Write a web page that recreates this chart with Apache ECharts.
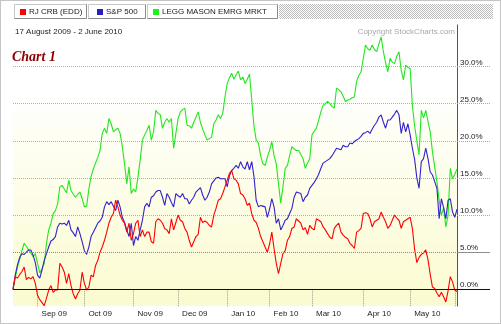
<!DOCTYPE html>
<html>
<head>
<meta charset="utf-8">
<script src="https://cdn.jsdelivr.net/npm/echarts@6/dist/echarts.min.js"></script>
<style>
  html, body { margin: 0; padding: 0; background: #fff; }
  #chart { width: 501px; height: 324px; }
</style>
</head>
<body>
<div id="chart"></div>
<script>
// Trading calendar (NYSE), 17 Aug 2009 - 2 Jun 2010
const startDate = '2009-08-17';
const endDate = '2010-06-02';
const marketHolidays = ['2009-09-07', '2009-11-26', '2009-12-25', '2010-01-01',
  '2010-01-18', '2010-02-15', '2010-04-02', '2010-05-31'];

function tradingDays(from, to, holidays) {
  const out = [];
  const d = new Date(from + 'T00:00:00Z');
  const end = new Date(to + 'T00:00:00Z');
  while (d <= end) {
    const s = d.toISOString().slice(0, 10);
    const wd = d.getUTCDay();
    if (wd !== 0 && wd !== 6 && holidays.indexOf(s) < 0) out.push(s);
    d.setUTCDate(d.getUTCDate() + 1);
  }
  return out;
}

const categories = tradingDays(startDate, endDate, marketHolidays);

const seriesNames = ['RJ CRB (EDD)', 'S&P 500', 'LEGG MASON EMRG MRKT'];
const monthNames = ['Jan', 'Feb', 'Mar', 'Apr', 'May', 'Jun', 'Jul', 'Aug', 'Sep', 'Oct', 'Nov', 'Dec'];
const yTickValues = [0, 5, 10, 15, 20, 25, 30];

// Percent change since 17 Aug 2009
const crbValues = [
  0, 1.7, 1.5, 2.0, 2.4, 3.0, 1.3, 1.6, 1.4, 1.7,
  0.8, -0.8, -1.4, -1.8, -2.2, -1.2, -0.1, 0.5, -0.4, -0.1,
  -0.1, 3.5, 3.0, 2.3, 0.8, 2.1, 0.5, -0.6, -1.3, -0.6,
  -0.1, 2.3, 0.8, -0.1, 0.3, 1.9, 1.7, 3.2, 3.9, 5.0,
  5.7, 6.6, 7.7, 8.9, 9.7, 10.2, 12.0, 11.1, 10.0, 9.3,
  8.9, 7.7, 8.9, 6.6, 7.5, 8.9, 9.3, 7.1, 8.0, 7.1,
  7.7, 7.7, 6.4, 6.2, 9.1, 9.5, 9.3, 8.9, 8.2, 8.0,
  7.5, 9.5, 8.0, 9.0, 10.0, 9.3, 9.1, 8.2, 7.7, 6.6,
  5.7, 6.4, 7.1, 7.4, 9.7, 9.0, 9.2, 9.0, 8.6, 8.4,
  10.0, 10.9, 12.0, 12.2, 12.9, 13.8, 14.7, 15.6, 16.0, 14.9,
  14.7, 14.2, 12.9, 12.7, 12.2, 11.3, 11.6, 10.2, 9.3, 9.0,
  8.2, 7.1, 6.4, 5.7, 5.0, 6.1, 7.7, 5.5, 3.5, 2.1,
  3.5, 4.8, 5.2, 6.6, 7.1, 8.2, 8.4, 9.5, 9.2, 8.9,
  8.0, 8.3, 7.4, 8.6, 8.2, 8.0, 9.5, 9.3, 9.1, 8.4,
  8.0, 7.5, 7.0, 6.8, 8.2, 8.6, 8.9, 7.7, 7.3, 7.0,
  6.8, 6.2, 5.9, 5.5, 7.7, 7.9, 8.2, 10.2, 10.3, 10.2,
  9.5, 8.4, 9.1, 9.3, 9.5, 10.4, 9.7, 9.1, 8.2, 8.6,
  9.3, 10.0, 9.6, 9.3, 8.2, 9.1, 9.3, 9.5, 9.7, 8.2,
  5.4, 3.6, 4.3, 4.7, 4.9, 5.3, 4.0, 2.0, 0.3, 0.1,
  -0.5, -1.0, -0.4, -1.0, -1.7, -0.2, 1.7, 1.0, -0.1, -0.3
];

const spxValues = [
  0, 1.9, 3.3, 4.3, 4.8, 4.7, 5.0, 5.3, 5.3, 4.6,
  3.6, 1.9, 1.5, 2.6, 3.9, 4.8, 5.7, 6.5, 6.7, 7.1,
  8.4, 8.9, 8.8, 8.9, 8.6, 9.3, 8.0, 7.6, 7.1, 8.4,
  7.5, 6.4, 5.2, 4.7, 5.7, 7.1, 7.7, 8.3, 8.9, 9.2,
  9.7, 11.1, 11.8, 11.4, 11.8, 11.2, 10.6, 12.0, 11.1, 9.7,
  9.0, 8.0, 7.1, 8.9, 5.9, 7.1, 6.6, 8.0, 9.3, 11.1,
  11.6, 11.1, 12.4, 12.6, 13.1, 13.3, 13.3, 12.4, 11.3, 12.9,
  12.4, 11.7, 11.1, 12.9, 12.6, 12.4, 12.9, 12.2, 12.2, 11.5,
  12.0, 12.4, 13.1, 13.4, 13.7, 12.7, 12.0, 12.4, 13.1, 14.2,
  14.6, 15.0, 15.1, 14.9, 14.9, 14.9, 13.8, 15.3, 16.0, 16.3,
  16.7, 16.3, 17.2, 16.5, 16.2, 17.2, 16.1, 17.2, 15.2, 12.0,
  11.1, 11.3, 11.2, 11.1, 9.7, 10.8, 12.2, 11.1, 8.9, 9.5,
  8.0, 8.6, 9.3, 9.5, 10.2, 10.9, 12.4, 13.1, 13.0, 12.9,
  11.8, 12.4, 12.7, 13.6, 14.0, 14.4, 14.9, 15.5, 16.3, 17.0,
  17.2, 17.4, 17.6, 18.0, 18.5, 19.0, 18.9, 18.8, 19.4, 19.2,
  19.2, 19.7, 19.6, 19.9, 20.1, 20.3, 20.6, 21.0, 21.1, 21.3,
  21.0, 21.6, 22.1, 22.5, 23.2, 23.5, 22.5, 21.7, 22.8, 22.8,
  23.2, 23.6, 24.1, 23.5, 21.0, 22.5, 21.2, 22.3, 20.8, 19.0,
  17.5, 15.0, 13.6, 17.2, 17.6, 19.0, 17.6, 15.8, 15.4, 14.5,
  13.6, 9.5, 12.2, 11.0, 9.5, 12.0, 12.2, 10.4, 9.7, 10.8
];

const emrgValues = [
  0, 1.5, 3.0, 4.0, 5.2, 6.2, 5.8, 5.3, 4.9, 4.4,
  4.8, 3.5, 2.2, 2.8, 3.5, 6.2, 8.0, 8.9, 10.2, 10.6,
  11.5, 13.8, 14.0, 13.5, 13.0, 14.7, 13.3, 12.8, 12.4, 12.8,
  13.1, 12.2, 11.1, 11.2, 13.5, 15.2, 16.2, 17.0, 17.8, 18.7,
  21.0, 21.7, 21.0, 23.0, 22.3, 21.2, 21.5, 21.7, 21.0, 19.2,
  16.9, 14.2, 16.5, 12.9, 13.5, 13.1, 15.1, 17.4, 20.1, 20.8,
  21.4, 22.1, 20.1, 21.2, 24.1, 23.7, 23.5, 21.7, 22.5, 23.0,
  22.5, 23.0, 19.0, 21.0, 23.0, 23.9, 24.2, 24.4, 22.1, 22.0,
  21.7, 22.5, 23.2, 23.9, 22.5, 21.6, 20.8, 20.1, 20.3, 20.5,
  22.3, 22.8, 23.5, 23.0, 23.7, 25.9, 27.7, 28.5, 29.1, 28.3,
  28.9, 29.4, 28.2, 28.6, 27.7, 28.3, 29.0, 25.5, 22.0, 20.1,
  19.7, 18.0, 16.9, 16.7, 17.8, 18.7, 19.9, 18.0, 16.9, 14.2,
  11.6, 13.8, 16.3, 16.7, 18.0, 19.2, 18.9, 18.7, 18.7, 18.2,
  17.6, 16.3, 17.0, 17.6, 20.8, 21.3, 21.7, 22.8, 23.9, 24.8,
  25.0, 25.3, 25.0, 24.6, 24.4, 27.1, 26.9, 26.6, 26.0, 25.3,
  25.5, 25.6, 25.8, 25.9, 28.0, 28.8, 29.3, 31.1, 32.9, 32.4,
  32.2, 32.9, 32.3, 32.0, 33.1, 34.0, 32.0, 30.5, 29.3, 31.1,
  30.6, 30.4, 31.4, 32.0, 29.5, 28.2, 30.2, 29.9, 29.7, 24.8,
  22.0, 20.0, 18.1, 24.1, 23.1, 24.1, 22.6, 21.2, 18.5, 16.5,
  14.5, 12.0, 10.0, 11.0, 8.4, 10.0, 16.3, 14.9, 15.5, 16.2
];

const seriesColors = ['#ff0000', '#3322cc', '#22e622'];
const legendColors = ['#ff0000', '#2a1fc0', '#22ee22'];

const sansFont = '"Liberation Sans", Arial, sans-serif';

function isMonthStart(i) {
  return i > 0 && categories[i].slice(5, 7) !== categories[i - 1].slice(5, 7);
}
function monthLabel(value) {
  return monthNames[parseInt(value.slice(5, 7), 10) - 1] + ' ' + value.slice(2, 4);
}

// dithered grey fill for the empty tab strip
const hatch = document.createElement('canvas');
hatch.width = 2; hatch.height = 2;
const hc = hatch.getContext('2d');
hc.fillStyle = '#ffffff'; hc.fillRect(0, 0, 2, 2);
hc.fillStyle = '#bdbdbd'; hc.fillRect(0, 0, 1, 1); hc.fillRect(1, 1, 1, 1);

function tab(x, w) {
  return [
    { type: 'rect', shape: { x: x + 0.5, y: 4.5, width: w, height: 14 },
      style: { fill: '#fff', stroke: '#c8c8c8', lineWidth: 1 }, z: 0, silent: true },
    { type: 'polyline', shape: { points: [[x + w + 0.5, 4.5], [x + w + 0.5, 18.5], [x + 0.5, 18.5]] },
      style: { stroke: '#8a8a8a', lineWidth: 1, fill: null }, z: 0, silent: true }
  ];
}

const yMin = -2.25, yMax = 35.6;

const chart = echarts.init(document.getElementById('chart'), null, { renderer: 'canvas' });

const lineSeries = [
  { name: seriesNames[2], data: emrgValues, color: seriesColors[2] },
  { name: seriesNames[1], data: spxValues, color: seriesColors[1] },
  { name: seriesNames[0], data: crbValues, color: seriesColors[0] }
].map(function (s, k) {
  const o = {
    name: s.name,
    type: 'line',
    data: s.data,
    showSymbol: false,
    symbol: 'none',
    smooth: false,
    color: s.color,
    lineStyle: { color: s.color, width: 1.1 },
    itemStyle: { color: legendColors[seriesNames.indexOf(s.name)] },
    yAxisIndex: 0,
    animation: false
  };
  if (k === 0) {
    o.markLine = {
      silent: true,
      symbol: 'none',
      label: { show: false },
      animation: false,
      data: [
        { yAxis: 5, lineStyle: { color: '#8c8c8c', type: 'dotted', width: 1 } },
        { yAxis: 0, lineStyle: { color: '#111', type: 'solid', width: 1 } }
      ]
    };
  }
  return o;
});

const option = {
  animation: false,
  backgroundColor: '#fff',
  textStyle: { fontFamily: sansFont },
  title: [
    { text: '17 August 2009 - 2 June 2010', left: 15, top: 28, padding: 0,
      textStyle: { fontSize: 8, fontWeight: 'normal', color: '#222', fontFamily: sansFont } },
    { text: 'Copyright StockCharts.com', right: 46, top: 28, padding: 0,
      textStyle: { fontSize: 8, fontWeight: 'normal', color: '#a8a8a8', fontFamily: sansFont } },
    { text: 'Chart 1', left: 12, top: 50, padding: 0,
      textStyle: { fontSize: 14, fontWeight: 'bold', fontStyle: 'italic', color: '#8b0000',
        fontFamily: '"Liberation Serif", "Times New Roman", serif' } }
  ],
  legend: seriesNames.map(function (n, k) {
    return {
      data: [n],
      left: [20, 97, 153][k],
      top: 8,
      padding: 0,
      icon: 'rect',
      itemWidth: 6,
      itemHeight: 6,
      itemGap: 0,
      selectedMode: false,
      textStyle: { fontSize: 8, color: '#222', fontFamily: sansFont, padding: [0, 0, 0, -2] }
    };
  }),
  graphic: [].concat(
    tab(14, 72), tab(88, 57), tab(147, 130),
    [
      { type: 'rect', shape: { x: 279, y: 4, width: 214, height: 15 },
        style: { fill: { image: hatch, repeat: 'repeat' } }, z: 0, silent: true },
      { type: 'rect', shape: { x: 0.5, y: 0.5, width: 500, height: 323 },
        style: { fill: null, stroke: '#8a8a8a', lineWidth: 1, lineDash: [1, 1] }, z: 10, silent: true }
    ]
  ),
  grid: {
    left: 13, right: 44, top: 25, bottom: 18,
    show: true,
    borderWidth: 0,
    outerBoundsMode: 'none',
    backgroundColor: {
      type: 'linear', x: 0, y: 0, x2: 0, y2: 1,
      colorStops: [
        { offset: 0, color: '#ffffff' },
        { offset: 0.22, color: '#ffffff' },
        { offset: 1, color: '#fbfbd0' }
      ]
    }
  },
  xAxis: {
    type: 'category',
    data: categories,
    boundaryGap: false,
    axisLine: { show: false },
    axisTick: {
      show: true,
      interval: function (i) { return isMonthStart(i); },
      length: 18,
      lineStyle: { color: '#9a9a9a', type: 'dotted', width: 1 }
    },
    axisLabel: {
      interval: function (i) { return isMonthStart(i) && i < categories.length - 5; },
      formatter: monthLabel,
      align: 'left',
      padding: [0, 0, 0, 4],
      margin: 4,
      fontSize: 8,
      color: '#222',
      fontFamily: sansFont
    },
    splitLine: { show: false }
  },
  yAxis: [
    {
      type: 'value', position: 'right', min: yMin, max: yMax,
      axisLine: { show: true, onZero: false, lineStyle: { color: '#555', width: 1 } },
      axisTick: { show: true, customValues: yTickValues, length: 33,
        lineStyle: { color: '#a8a8a8', type: 'dotted', width: 1 } },
      axisLabel: { customValues: yTickValues, formatter: function (v) { return v.toFixed(1) + '%'; },
        margin: 3, verticalAlign: 'bottom', fontSize: 8, color: '#222', fontFamily: sansFont },
      splitLine: { show: true, lineStyle: { color: '#b0b0b0', type: 'dotted', width: 1 } }
    },
    {
      type: 'value', position: 'right', min: yMin, max: yMax,
      axisLine: { show: false },
      axisTick: { show: true, customValues: [0], length: 33, lineStyle: { color: '#111', width: 1 } },
      axisLabel: { show: false },
      splitLine: { show: false }
    },
    {
      type: 'value', position: 'right', min: yMin, max: yMax,
      axisLine: { show: false },
      axisTick: { show: true, customValues: [5], length: 33, lineStyle: { color: '#8c8c8c', width: 1 } },
      axisLabel: { show: false },
      splitLine: { show: false }
    }
  ],
  series: lineSeries
};

chart.setOption(option);
</script>
</body>
</html>
